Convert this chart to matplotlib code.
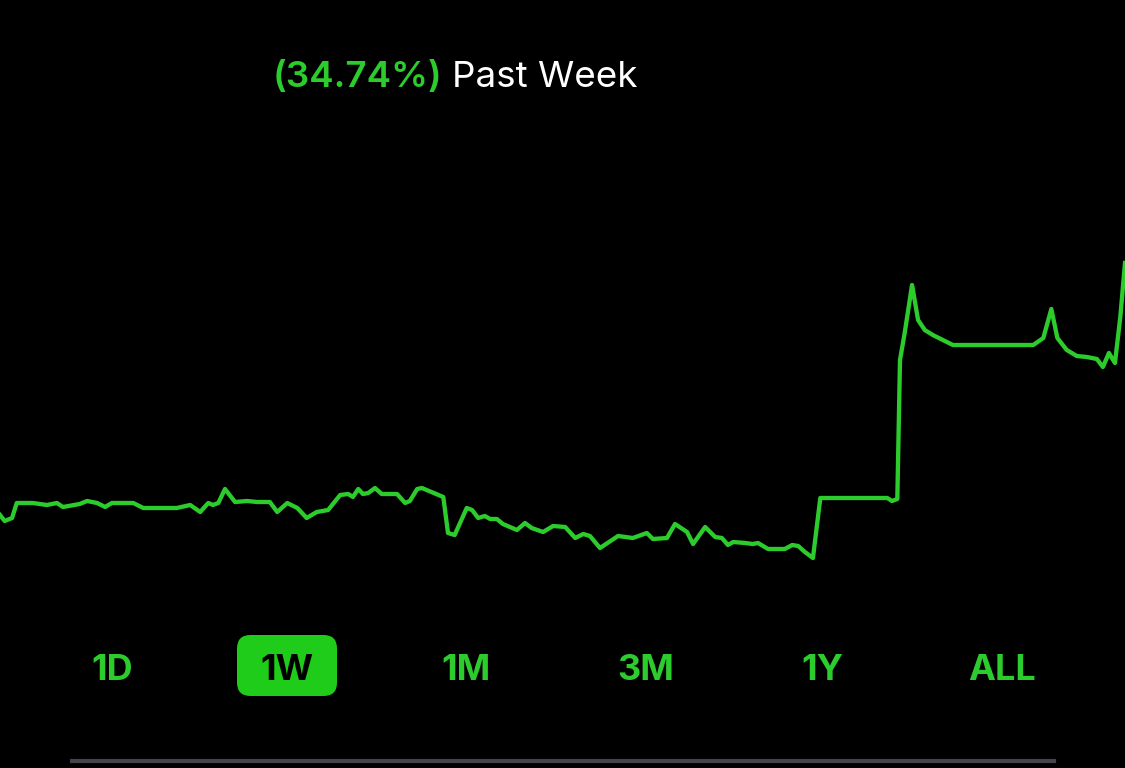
import matplotlib.pyplot as plt
from matplotlib.patches import FancyBboxPatch

# hours since start of the week
hours = [0.0, 0.7, 1.8, 2.5, 4.9, 7.0, 8.5, 9.4, 11.9, 13.0,
         14.5, 15.7, 16.7, 19.9, 21.4, 25.4, 26.4, 28.4, 29.9, 31.1,
         31.8, 32.6, 33.6, 35.1, 36.9, 38.4, 40.3, 41.4, 42.9, 44.4,
         45.8, 47.3, 49.0, 50.8, 52.0, 52.7, 53.5, 54.2, 55.0, 56.0,
         57.0, 59.3, 60.5, 61.2, 62.3, 63.0, 66.2, 66.9, 67.9, 69.7,
         70.5, 71.4, 72.4, 73.2, 74.2, 75.1, 77.2, 78.4, 79.4, 81.1,
         82.6, 84.4, 85.9, 87.1, 88.1, 89.6, 92.3, 94.5, 96.6, 97.5,
         99.6, 100.8, 102.6, 103.5, 105.3, 106.8, 107.8, 108.7, 109.5, 111.3,
         112.4, 113.2, 114.7, 117.2, 118.3, 119.2, 120.2, 121.4, 122.5, 125.4,
         132.5, 133.2, 134.0, 134.4, 135.1, 136.2, 137.1, 138.1, 139.3, 140.8,
         142.3, 154.3, 155.8, 157.0, 157.9, 159.3, 160.8, 162.3, 163.8, 164.7,
         165.6, 166.5, 167.3, 168.0]

# portfolio value
values = [72.5, 71.9, 72.2, 73.7, 73.7, 73.5, 73.7, 73.3, 73.6, 73.9,
          73.7, 73.3, 73.7, 73.7, 73.2, 73.2, 73.2, 73.5, 72.8, 73.7,
          73.5, 73.7, 75.1, 73.8, 73.9, 73.8, 73.8, 72.8, 73.7, 73.2,
          72.2, 72.8, 73.0, 74.5, 74.6, 74.3, 75.1, 74.6, 74.7, 75.2,
          74.6, 74.6, 73.7, 73.9, 75.1, 75.2, 74.3, 70.7, 70.5, 73.2,
          73.0, 72.2, 72.4, 72.1, 72.1, 71.6, 71.0, 71.7, 71.2, 70.8,
          71.4, 71.3, 70.2, 70.6, 70.4, 69.2, 70.4, 70.2, 70.7, 70.1,
          70.2, 71.6, 70.8, 69.6, 71.3, 70.3, 70.2, 69.5, 69.8, 69.7,
          69.6, 69.7, 69.1, 69.1, 69.5, 69.4, 68.8, 68.2, 74.2, 74.2,
          74.2, 73.9, 74.1, 88.0, 90.7, 95.5, 92.0, 91.0, 90.5, 90.0,
          89.5, 89.5, 90.2, 93.1, 90.2, 89.0, 88.4, 88.3, 88.1, 87.3,
          88.7, 87.7, 92.3, 97.7]

ranges = ["1D", "1W", "1M", "3M", "1Y", "ALL"]
selected = "1W"
change_pct = 34.74

green = "#2ccc2c"
btn_green = "#20cc1a"

plt.rcParams['font.family'] = ['Inter', 'DejaVu Sans']

fig = plt.figure(figsize=(11.25, 7.68), dpi=100, facecolor="black")
ax = fig.add_axes([0, 0, 1, 1])
ax.set_facecolor("black")
ax.plot(hours, values, color=green, lw=3.1, solid_joinstyle="round")
ax.set_xlim(0, 168)
ax.set_ylim(47.2, 124)
ax.axis("off")

# header
fig.text(273 / 1125, 1 - 87 / 768, f"({change_pct:.2f}%)", color=green,
         fontsize=26.5, fontweight="semibold", ha="left", va="baseline")
fig.text(452 / 1125, 1 - 87 / 768, "Past Week", color="white",
         fontsize=26.5, ha="left", va="baseline")

# range selector
btn_x = [112, 287, 466, 646, 822, 1002]
for label, bx in zip(ranges, btn_x):
    col = green
    if label == selected:
        box = FancyBboxPatch((237 / 1125, 1 - 696 / 768), 100 / 1125, 61 / 768,
                             boxstyle="round,pad=0,rounding_size=0.012",
                             transform=fig.transFigure, facecolor=btn_green,
                             edgecolor="none", mutation_aspect=1125 / 768)
        fig.patches.append(box)
        col = "black"
    fig.text(bx / 1125, 1 - 680 / 768, label, color=col, fontsize=26,
             fontweight="bold", ha="center", va="baseline")

fig.add_artist(plt.Line2D([72 / 1125, 1054 / 1125], [1 - 761 / 768] * 2,
                          color="#45434b", lw=3, transform=fig.transFigure))

fig.savefig("out.png", dpi=100, facecolor="black")
